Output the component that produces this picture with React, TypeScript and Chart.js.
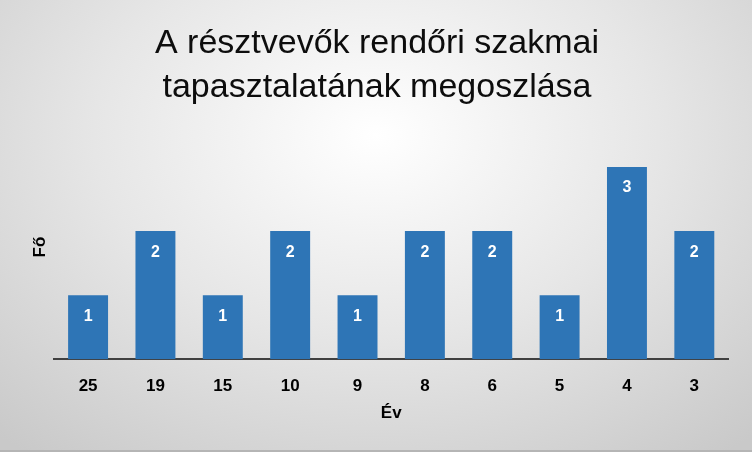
import React, { useEffect, useRef } from 'react';
import { Chart, registerables } from 'chart.js';

Chart.register(...registerables);

const titleLines = ['A résztvevők rendőri szakmai', 'tapasztalatának megoszlása'];
const years = ['25', '19', '15', '10', '9', '8', '6', '5', '4', '3'];
const counts = [1, 2, 1, 2, 1, 2, 2, 1, 3, 2];
const xTitle = 'Év';
const yTitle = 'Fő';

// white value labels drawn near the top of each bar
const barLabels = {
    id: 'barLabels',
    afterDatasetsDraw(chart: Chart) {
        const ctx = chart.ctx;
        const meta = chart.getDatasetMeta(0);
        ctx.save();
        ctx.fillStyle = '#ffffff';
        ctx.font = 'bold 16px "Liberation Sans", Arial, sans-serif';
        ctx.textAlign = 'center';
        ctx.textBaseline = 'middle';
        meta.data.forEach((bar: any, i: number) => {
            ctx.fillText(String(counts[i]), bar.x, bar.y + 21);
        });
        ctx.restore();
    },
};

const App: React.FC = () => {
    const canvasRef = useRef<HTMLCanvasElement>(null);
    const chartRef = useRef<Chart | null>(null);

    useEffect(() => {
        document.body.style.margin = '0';
        if (!canvasRef.current) return;
        if (chartRef.current) chartRef.current.destroy();

        chartRef.current = new Chart(canvasRef.current, {
            type: 'bar',
            data: {
                labels: years,
                datasets: [{
                    data: counts,
                    backgroundColor: '#2e75b6',
                    borderWidth: 0,
                    categoryPercentage: 1,
                    barPercentage: 0.593,
                }],
            },
            options: {
                responsive: false,
                animation: false,
                layout: { padding: { left: 26, right: 24, bottom: 26, top: 0 } },
                plugins: {
                    legend: { display: false },
                    tooltip: { enabled: false },
                    title: {
                        display: true,
                        text: titleLines,
                        color: '#0d0d0d',
                        font: { family: '"Liberation Sans", Arial, sans-serif', size: 34, weight: 'normal', lineHeight: 1.28 },
                        padding: { top: 22, bottom: 26 },
                    },
                },
                scales: {
                    x: {
                        grid: { display: false, drawTicks: false },
                        border: { display: true, color: '#404040', width: 2 },
                        ticks: {
                            color: '#000000',
                            padding: 17,
                            font: { family: '"Liberation Sans", Arial, sans-serif', size: 17, weight: 'bold' },
                        },
                        title: {
                            display: true,
                            text: xTitle,
                            color: '#000000',
                            padding: { top: -10, bottom: 0 },
                            font: { family: '"Liberation Sans", Arial, sans-serif', size: 17, weight: 'bold' },
                        },
                    },
                    y: {
                        min: 0,
                        max: 3.5,
                        grid: { display: false, drawTicks: false },
                        border: { display: false },
                        ticks: { display: false },
                        title: {
                            display: true,
                            text: yTitle,
                            color: '#000000',
                            padding: 4,
                            font: { family: '"Liberation Sans", Arial, sans-serif', size: 17, weight: 'bold' },
                        },
                    },
                },
            },
            plugins: [barLabels],
        });

        return () => {
            chartRef.current?.destroy();
            chartRef.current = null;
        };
    }, []);

    return (
        <div
            style={{
                width: 752,
                height: 452,
                background: 'radial-gradient(ellipse 75% 90% at 50% 30%, #ffffff 0%, #e6e6e6 50%, #c9c9c9 100%)',
                borderBottom: '2px solid #b5b5b5',
                boxSizing: 'border-box',
            }}
        >
            <canvas ref={canvasRef} width={752} height={450}></canvas>
        </div>
    );
};

export default App;
